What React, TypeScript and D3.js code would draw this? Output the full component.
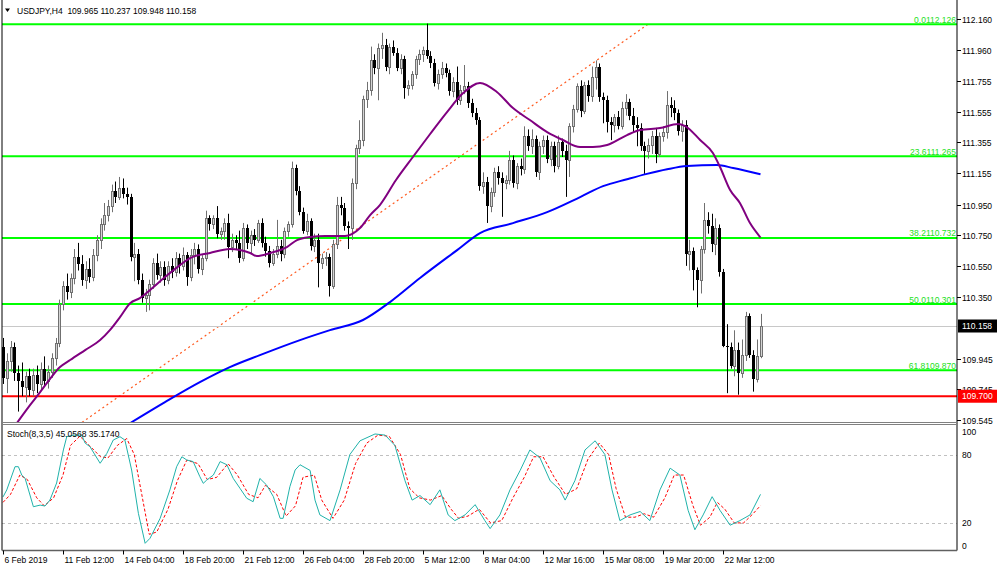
import React from 'react';
import * as d3 from 'd3';

// USDJPY H4, bars 0..202 : [open, high, low, close]
const candles: [number, number, number, number][] = [
  [110.02, 110.08, 109.78, 109.82], [109.82, 109.98, 109.72, 109.93], [109.93, 110.06, 109.86, 110.02], [110.02, 110.05, 109.80, 109.85],
  [109.85, 109.90, 109.60, 109.80], [109.80, 109.92, 109.70, 109.76], [109.76, 109.86, 109.66, 109.83], [109.83, 109.88, 109.70, 109.74],
  [109.74, 109.88, 109.70, 109.84], [109.84, 109.90, 109.72, 109.78], [109.78, 109.92, 109.74, 109.88], [109.88, 109.96, 109.77, 109.80],
  [109.80, 109.90, 109.75, 109.86], [109.86, 109.98, 109.82, 109.95], [109.95, 110.08, 109.90, 110.05], [110.05, 110.33, 110.02, 110.30],
  [110.30, 110.45, 110.26, 110.42], [110.42, 110.50, 110.33, 110.38], [110.38, 110.50, 110.34, 110.47], [110.47, 110.66, 110.43, 110.61],
  [110.61, 110.70, 110.52, 110.56], [110.56, 110.62, 110.42, 110.46], [110.46, 110.58, 110.40, 110.53], [110.53, 110.60, 110.44, 110.48],
  [110.48, 110.66, 110.45, 110.62], [110.62, 110.75, 110.58, 110.72], [110.72, 110.86, 110.66, 110.82], [110.82, 110.96, 110.78, 110.88],
  [110.88, 110.98, 110.84, 110.94], [110.94, 111.08, 110.90, 111.04], [111.04, 111.10, 110.96, 111.00], [111.00, 111.13, 110.98, 111.06],
  [111.06, 111.12, 110.99, 111.02], [111.02, 111.06, 110.95, 111.00], [111.00, 111.02, 110.58, 110.61], [110.61, 110.70, 110.45, 110.63],
  [110.63, 110.66, 110.43, 110.46], [110.46, 110.50, 110.31, 110.34], [110.34, 110.40, 110.25, 110.36], [110.36, 110.46, 110.26, 110.43],
  [110.43, 110.60, 110.40, 110.57], [110.57, 110.63, 110.46, 110.49], [110.49, 110.58, 110.44, 110.54], [110.54, 110.58, 110.42, 110.46],
  [110.46, 110.58, 110.43, 110.55], [110.55, 110.60, 110.47, 110.51], [110.51, 110.64, 110.48, 110.60], [110.60, 110.63, 110.50, 110.55],
  [110.55, 110.67, 110.52, 110.62], [110.62, 110.64, 110.42, 110.48], [110.48, 110.66, 110.45, 110.62], [110.62, 110.70, 110.56, 110.66],
  [110.66, 110.69, 110.50, 110.53], [110.53, 110.62, 110.49, 110.60], [110.60, 110.91, 110.58, 110.86], [110.86, 110.88, 110.78, 110.82],
  [110.82, 110.88, 110.79, 110.86], [110.86, 110.94, 110.73, 110.76], [110.76, 110.80, 110.72, 110.78], [110.78, 110.86, 110.72, 110.83],
  [110.83, 110.89, 110.60, 110.67], [110.67, 110.76, 110.64, 110.72], [110.72, 110.75, 110.66, 110.70], [110.70, 110.78, 110.57, 110.60],
  [110.60, 110.83, 110.58, 110.80], [110.80, 110.82, 110.66, 110.70], [110.70, 110.78, 110.63, 110.75], [110.75, 110.79, 110.68, 110.72],
  [110.72, 110.85, 110.70, 110.83], [110.83, 110.86, 110.67, 110.70], [110.70, 110.74, 110.61, 110.65], [110.65, 110.68, 110.54, 110.57],
  [110.57, 110.66, 110.55, 110.63], [110.63, 110.85, 110.60, 110.68], [110.68, 110.72, 110.58, 110.63], [110.63, 110.80, 110.60, 110.78],
  [110.78, 110.84, 110.74, 110.82], [110.82, 111.23, 110.80, 111.19], [111.19, 111.21, 111.01, 111.04], [111.04, 111.07, 110.88, 110.90],
  [110.90, 110.93, 110.76, 110.78], [110.78, 110.89, 110.75, 110.84], [110.84, 110.86, 110.65, 110.68], [110.68, 110.76, 110.64, 110.72],
  [110.72, 110.76, 110.41, 110.57], [110.57, 110.63, 110.53, 110.60], [110.60, 110.64, 110.55, 110.61], [110.61, 110.63, 110.35, 110.42],
  [110.42, 110.72, 110.40, 110.69], [110.69, 111.00, 110.66, 110.95], [110.95, 111.00, 110.88, 110.93], [110.93, 110.96, 110.78, 110.81],
  [110.81, 110.84, 110.66, 110.80], [110.80, 111.12, 110.72, 111.09], [111.09, 111.34, 111.05, 111.32], [111.32, 111.50, 111.28, 111.37],
  [111.37, 111.66, 111.33, 111.64], [111.64, 111.75, 111.58, 111.70], [111.70, 111.98, 111.66, 111.89], [111.89, 111.93, 111.80, 111.84],
  [111.84, 112.00, 111.63, 111.97], [111.97, 112.07, 111.90, 111.99], [111.99, 112.03, 111.82, 111.85], [111.85, 112.00, 111.80, 111.98],
  [111.98, 112.02, 111.92, 111.94], [111.94, 111.97, 111.82, 111.84], [111.84, 111.93, 111.80, 111.90], [111.90, 111.92, 111.64, 111.71],
  [111.71, 111.76, 111.66, 111.73], [111.73, 111.82, 111.70, 111.80], [111.80, 111.92, 111.77, 111.90], [111.90, 111.96, 111.86, 111.93],
  [111.93, 111.98, 111.88, 111.96], [111.96, 112.13, 111.90, 111.92], [111.92, 111.95, 111.84, 111.87], [111.87, 111.90, 111.72, 111.74],
  [111.74, 111.83, 111.70, 111.80], [111.80, 111.88, 111.77, 111.84], [111.84, 111.87, 111.78, 111.81], [111.81, 111.83, 111.66, 111.69],
  [111.69, 111.78, 111.65, 111.75], [111.75, 111.85, 111.60, 111.63], [111.63, 111.73, 111.60, 111.70], [111.70, 111.86, 111.67, 111.72],
  [111.72, 111.75, 111.58, 111.61], [111.61, 111.64, 111.52, 111.55], [111.55, 111.58, 111.47, 111.50], [111.50, 111.52, 111.04, 111.07],
  [111.07, 111.16, 111.02, 111.10], [111.10, 111.13, 110.83, 110.94], [110.94, 111.06, 110.90, 111.03], [111.03, 111.19, 111.00, 111.16],
  [111.16, 111.20, 111.08, 111.12], [111.12, 111.16, 110.87, 111.09], [111.09, 111.14, 111.05, 111.11], [111.11, 111.30, 111.08, 111.24],
  [111.24, 111.27, 111.06, 111.09], [111.09, 111.22, 111.05, 111.20], [111.20, 111.25, 111.14, 111.18], [111.18, 111.46, 111.15, 111.40],
  [111.40, 111.44, 111.30, 111.33], [111.33, 111.44, 111.28, 111.38], [111.38, 111.40, 111.13, 111.16], [111.16, 111.36, 111.11, 111.33],
  [111.33, 111.40, 111.28, 111.37], [111.37, 111.40, 111.22, 111.25], [111.25, 111.36, 111.20, 111.33], [111.33, 111.36, 111.16, 111.20],
  [111.20, 111.40, 111.18, 111.36], [111.36, 111.38, 111.26, 111.30], [111.30, 111.34, 111.00, 111.24], [111.24, 111.48, 111.13, 111.46],
  [111.46, 111.60, 111.42, 111.57], [111.57, 111.74, 111.55, 111.72], [111.72, 111.76, 111.52, 111.56], [111.56, 111.75, 111.54, 111.73],
  [111.73, 111.76, 111.62, 111.66], [111.66, 111.85, 111.62, 111.78], [111.78, 111.89, 111.70, 111.85], [111.85, 111.87, 111.62, 111.65],
  [111.65, 111.68, 111.48, 111.63], [111.63, 111.66, 111.42, 111.49], [111.49, 111.52, 111.37, 111.47], [111.47, 111.54, 111.42, 111.52],
  [111.52, 111.56, 111.44, 111.46], [111.46, 111.62, 111.44, 111.58], [111.58, 111.67, 111.53, 111.62], [111.62, 111.64, 111.50, 111.53],
  [111.53, 111.58, 111.42, 111.47], [111.47, 111.52, 111.33, 111.45], [111.45, 111.48, 111.30, 111.33], [111.33, 111.36, 111.15, 111.30],
  [111.30, 111.38, 111.25, 111.34], [111.34, 111.43, 111.28, 111.40], [111.40, 111.45, 111.22, 111.28], [111.28, 111.42, 111.26, 111.40],
  [111.40, 111.46, 111.36, 111.42], [111.42, 111.69, 111.38, 111.60], [111.60, 111.65, 111.52, 111.58], [111.58, 111.63, 111.50, 111.55],
  [111.55, 111.57, 111.40, 111.43], [111.43, 111.50, 111.36, 111.47], [111.47, 111.50, 110.55, 110.63], [110.63, 110.72, 110.52, 110.65],
  [110.65, 110.67, 110.39, 110.52], [110.52, 110.54, 110.28, 110.46], [110.46, 110.68, 110.37, 110.66], [110.66, 110.96, 110.63, 110.85],
  [110.85, 110.90, 110.76, 110.81], [110.81, 110.89, 110.64, 110.69], [110.69, 110.86, 110.62, 110.80], [110.80, 110.82, 110.48, 110.51],
  [110.51, 110.53, 110.02, 110.03], [110.03, 110.17, 109.72, 110.02], [110.02, 110.05, 109.88, 109.90], [109.90, 110.13, 109.83, 110.00],
  [110.00, 110.05, 109.71, 109.85], [109.85, 110.07, 109.82, 109.97], [109.97, 110.25, 109.93, 110.22], [110.22, 110.24, 109.95, 109.97],
  [109.97, 110.00, 109.73, 109.81], [109.81, 110.07, 109.79, 109.965], [109.965, 110.237, 109.948, 110.158],
];

// moving averages: [bar, price]
const purpleMA: [number, number][] = [
  [3.7, 109.525], [7.2, 109.642], [9.9, 109.727], [12.5, 109.812], [15.2, 109.89], [17.9, 109.936], [21.9, 110.001],
  [25.9, 110.066], [28.5, 110.131], [31.2, 110.216], [33.9, 110.307], [36.5, 110.34], [39.2, 110.392], [43.2, 110.477],
  [47.2, 110.555], [49.9, 110.601], [55.2, 110.634], [60.5, 110.66], [65.9, 110.634], [67.7, 110.614], [71.2, 110.634],
  [75.7, 110.673], [78.4, 110.718], [81.9, 110.738], [85.9, 110.745], [91.2, 110.745], [95.2, 110.797], [97.9, 110.881],
  [100.5, 110.947], [104.8, 111.11], [109.3, 111.26], [113.9, 111.41], [118.4, 111.553], [122.7, 111.677], [127.2, 111.743],
  [131.7, 111.684], [136, 111.579], [140.5, 111.501], [145.1, 111.423], [149.3, 111.371], [153.9, 111.325], [157.3, 111.325],
  [161.1, 111.338], [166.4, 111.403], [169.9, 111.436], [175.2, 111.449], [180, 111.475], [181.9, 111.462], [185.9, 111.371],
  [189.3, 111.286], [191.2, 111.195], [193.9, 111.045], [196.5, 110.96], [199.2, 110.829], [202, 110.735],
];
const blueMA: [number, number][] = [
  [33.9, 109.525], [43.2, 109.662], [52.5, 109.792], [60.5, 109.89], [68.5, 109.968], [79.2, 110.066], [87.2, 110.131],
  [96, 110.197], [103.2, 110.314], [111.2, 110.471], [121.1, 110.653], [127.2, 110.764], [136, 110.829], [145.1, 110.901],
  [153.9, 110.999], [160, 111.07], [166.4, 111.115], [171.7, 111.15], [177.1, 111.18], [182.4, 111.201], [190.4, 111.208],
  [194.7, 111.188], [202, 111.147],
];
// Fibonacci tool trendline anchors: [bar, price]
const trendLine: [number, number][] = [[-40, 108.478], [172, 112.126]];

// Stoch(8,3,5): [bar, value]
const stochMain: [number, number][] = [
  [0, 42.8], [1, 48.9], [3.2, 69.3], [4.1, 69.3], [5, 62], [5.9, 59], [8.1, 34.2], [9.9, 35.6], [11.2, 34.8], [12.5, 40],
  [14.3, 55], [16.1, 84], [17, 95.6], [18.7, 97], [21, 97], [21.9, 90], [23.2, 86.8], [25.9, 72.3], [27.7, 81], [29.4, 92.7],
  [31.2, 95.6], [32.5, 92.7], [34.3, 66.4], [36.1, 28.4], [37.9, 2.1], [39.2, 6.5], [41.9, 24], [44.5, 48.9], [46.3, 69.3],
  [47.7, 78], [49, 75.2], [50.7, 73.8], [52.5, 60.5], [53.4, 54.7], [54.3, 57.5], [56.1, 62], [57.9, 73.8], [59.7, 71],
  [61.4, 59], [63.2, 50.3], [65, 41.6], [66.7, 38.6], [68.5, 59], [70.3, 53.2], [72.1, 43], [73.9, 24], [74.7, 24],
  [76.5, 51.8], [77.9, 66.4], [79.2, 71], [81.9, 66], [83.2, 40], [84.5, 27], [87.2, 22], [89.9, 49], [92.5, 80],
  [95.2, 92], [99.2, 98], [101.9, 97], [104.5, 88], [107.2, 57], [109.1, 40], [111.2, 44], [113.9, 36], [116.5, 49],
  [118.7, 27], [120.5, 22], [123.2, 27], [125.9, 36], [128.5, 22], [129.9, 15], [132.5, 27], [135.2, 49], [137.9, 66],
  [140.5, 84], [143.2, 77], [145.9, 57], [148.5, 49], [149.9, 40], [152.5, 57], [155.2, 84], [157.9, 92], [160.5, 80],
  [162.4, 49], [164.5, 22], [167.2, 27], [169.9, 30], [172.5, 22], [175.2, 49], [177.9, 68], [180.5, 62], [182.7, 31],
  [184.5, 14], [186.7, 27], [189.1, 43], [191.2, 31], [193.9, 18], [196.5, 22], [199.2, 27], [202, 45.06],
];
const stochSignal: [number, number][] = [
  [0, 38], [2, 45], [4.5, 62], [6.5, 58], [9, 42], [11, 35], [13.5, 42], [16, 62], [18, 88], [20.5, 96], [23, 88], [26, 78],
  [28, 77], [30.5, 88], [33, 94], [35, 80], [37, 45], [39, 10], [41, 12], [44, 32], [46.5, 57], [49, 75], [52, 72], [54.5, 58],
  [57, 60], [60, 72], [62.5, 62], [65.5, 45], [68, 42], [70, 53], [73, 45], [75.5, 26], [78, 35], [80, 60], [83, 62], [85, 40],
  [88, 24], [91, 40], [94, 72], [97, 90], [100, 97], [103, 96], [106, 80], [108.5, 50], [111, 42], [114, 40], [117, 44],
  [119.5, 32], [121.5, 24], [124, 26], [127, 32], [130, 20], [133, 22], [136, 42], [139, 60], [141.5, 78], [144, 78],
  [147, 60], [150, 45], [153, 50], [156, 76], [159, 90], [161.5, 80], [163.5, 50], [166, 25], [168.5, 25], [171, 28],
  [173.5, 25], [176.5, 42], [179, 62], [181.5, 62], [184, 35], [186, 18], [188.5, 25], [190.5, 38], [192.5, 32], [195, 20],
  [197.5, 20], [200, 28], [202, 35.17],
];

const fibLevels = [
  { pct: '0.0', price: 112.126 },
  { pct: '23.6', price: 111.265 },
  { pct: '38.2', price: 110.732 },
  { pct: '50.0', price: 110.301 },
  { pct: '61.8', price: 109.87 },
];
const supportLevel = 109.7;
const lastPrice = 110.158;
const priceTicks = ['112.160', '111.960', '111.755', '111.555', '111.355', '111.155', '110.950', '110.750', '110.550', '110.350', '109.945', '109.745', '109.545'];
const stochTicks = [100, 80, 20, 0];
const stochLevels = [80, 20];
const timeLabels = ['6 Feb 2019', '11 Feb 12:00', '14 Feb 04:00', '18 Feb 20:00', '21 Feb 12:00', '26 Feb 04:00', '28 Feb 20:00',
  '5 Mar 12:00', '8 Mar 04:00', '12 Mar 16:00', '15 Mar 08:00', '19 Mar 20:00', '22 Mar 12:00'];
const barsPerLabel = 16;

const FONT = '"Liberation Sans", Arial, sans-serif';

export default function App() {
  const W = 1000, H = 571;
  const left = 2, axisX = 957;
  const mainBottom = 422.5, stochTop = 425.5, stochBottom = 550.5;

  const x = d3.scaleLinear().domain([0, 202]).range([3, 760.5]);
  const y = d3.scaleLinear().domain([109.545, 112.16]).range([420, 19]);
  const ys = d3.scaleLinear().domain([0, 100]).range([545.7, 431.7]);

  const priceLine = d3.line<[number, number]>().x(d => x(d[0])).y(d => y(d[1])).curve(d3.curveMonotoneX);
  const trend = d3.line<[number, number]>().x(d => x(d[0])).y(d => y(d[1]));
  const stochLine = d3.line<[number, number]>().x(d => x(d[0])).y(d => ys(d[1]));

  const label = (v: number) => v.toFixed(3);
  const ohlc = candles[candles.length - 1].map(label).join(' ');

  return (
    <div style={{ position: 'absolute', left: 0, top: 0 }}>
      <svg width={W} height={H} viewBox={`0 0 ${W} ${H}`} style={{ display: 'block', background: '#fff', fontFamily: FONT }}>
        <defs>
          <clipPath id="mainClip"><rect x={left} y={0} width={axisX - left} height={mainBottom} /></clipPath>
          <clipPath id="stochClip"><rect x={left} y={stochTop} width={axisX - left} height={stochBottom - stochTop} /></clipPath>
        </defs>
        <rect x={0} y={0} width={W} height={H} fill="#fff" />

        {/* main window */}
        <g clipPath="url(#mainClip)">
          <path d={trend(trendLine) || ''} fill="none" stroke="#ff5a1f" strokeWidth={1.2} strokeDasharray="2,3" />
          <line x1={left} x2={axisX} y1={Math.round(y(lastPrice)) + 0.5} y2={Math.round(y(lastPrice)) + 0.5} stroke="#c8c8c8" />
          {fibLevels.map(f => (
            <line key={f.pct} x1={left} x2={axisX} y1={y(f.price)} y2={y(f.price)} stroke="#00ff00" strokeWidth={2} />
          ))}
          <line x1={left} x2={axisX} y1={y(supportLevel)} y2={y(supportLevel)} stroke="#ff0000" strokeWidth={2} />

          {candles.map((c, i) => {
            const [o, h, l, cl] = c;
            const cx = Math.round(x(i));
            const bull = cl >= o;
            const top = Math.round(y(Math.max(o, cl)));
            const bot = Math.round(y(Math.min(o, cl)));
            const col = bull ? '#707070' : '#000';
            return (
              <g key={i}>
                <line x1={cx + 0.5} x2={cx + 0.5} y1={y(h)} y2={y(l)} stroke={col} strokeWidth={1} />
                {bull ? (
                  <rect x={cx - 0.5} y={top + 0.5} width={2} height={Math.max(bot - top, 1)} fill="#d4d4d4" stroke={col} strokeWidth={1} />
                ) : (
                  <rect x={cx - 1} y={top} width={3} height={Math.max(bot - top, 1)} fill="#000" />
                )}
              </g>
            );
          })}

          <path d={priceLine(blueMA) || ''} fill="none" stroke="#0000ff" strokeWidth={2} />
          <path d={priceLine(purpleMA) || ''} fill="none" stroke="#800080" strokeWidth={2} />

          {fibLevels.map(f => (
            <text key={f.pct} x={axisX - 1} y={y(f.price) - 1.5} textAnchor="end" fontSize={8.5} fill="#22e022">
              {f.pct}{label(f.price)}
            </text>
          ))}
        </g>

        {/* header */}
        <path d="M5,8.5 L10,8.5 L7.5,12 Z" fill="#000" />
        <text x={17} y={13.5} fontSize={8.5} fill="#000" style={{ whiteSpace: 'pre' }}>{`USDJPY,H4  ${ohlc}`}</text>

        {/* stochastic window */}
        <g clipPath="url(#stochClip)">
          {stochLevels.map(v => (
            <line key={v} x1={left} x2={axisX} y1={Math.round(ys(v)) + 0.5} y2={Math.round(ys(v)) + 0.5} stroke="#c0c0c0" strokeDasharray="3,3" />
          ))}
          <path d={stochLine(stochSignal) || ''} fill="none" stroke="#ff0000" strokeWidth={1} strokeDasharray="3,2" />
          <path d={stochLine(stochMain) || ''} fill="none" stroke="#20b2aa" strokeWidth={1} />
        </g>
        <text x={7} y={437} fontSize={8.5} fill="#000">Stoch(8,3,5) 45.0568 35.1740</text>

        {/* frames */}
        <line x1={left} x2={left} y1={0} y2={stochBottom} stroke="#000" />
        <line x1={axisX} x2={axisX} y1={0} y2={stochBottom} stroke="#000" />
        <line x1={left} x2={axisX} y1={mainBottom} y2={mainBottom} stroke="#808080" />
        <line x1={left} x2={axisX} y1={stochTop - 1} y2={stochTop - 1} stroke="#808080" />
        <line x1={left} x2={axisX} y1={stochBottom} y2={stochBottom} stroke="#606060" strokeWidth={1.5} />

        {/* price axis */}
        {priceTicks.map(t => {
          const py = Math.round(y(+t)) + 0.5;
          return (
            <g key={t}>
              <line x1={axisX} x2={axisX + 4} y1={py} y2={py} stroke="#000" />
              <text x={962} y={py + 3} fontSize={8.5} fill="#000">{t}</text>
            </g>
          );
        })}
        <rect x={958} y={y(lastPrice) - 6.5} width={39} height={13} fill="#000" />
        <text x={962} y={y(lastPrice) + 3} fontSize={8.5} fill="#fff">{label(lastPrice)}</text>
        <rect x={958} y={y(supportLevel) - 6.5} width={39} height={13} fill="#ff0000" />
        <text x={962} y={y(supportLevel) + 3} fontSize={8.5} fill="#fff">{label(supportLevel)}</text>

        {stochTicks.map(v => (
          <text key={v} x={962} y={ys(v) + 3} fontSize={8.5} fill="#000">{v}</text>
        ))}

        {/* time axis */}
        {timeLabels.map((t, k) => {
          const tx = Math.round(x(k * barsPerLabel)) + 0.5;
          return (
            <g key={t}>
              <line x1={tx} x2={tx} y1={stochBottom} y2={stochBottom + 4} stroke="#000" />
              <text x={tx + 1} y={563} fontSize={8.5} fill="#000">{t}</text>
            </g>
          );
        })}
      </svg>
    </div>
  );
}
